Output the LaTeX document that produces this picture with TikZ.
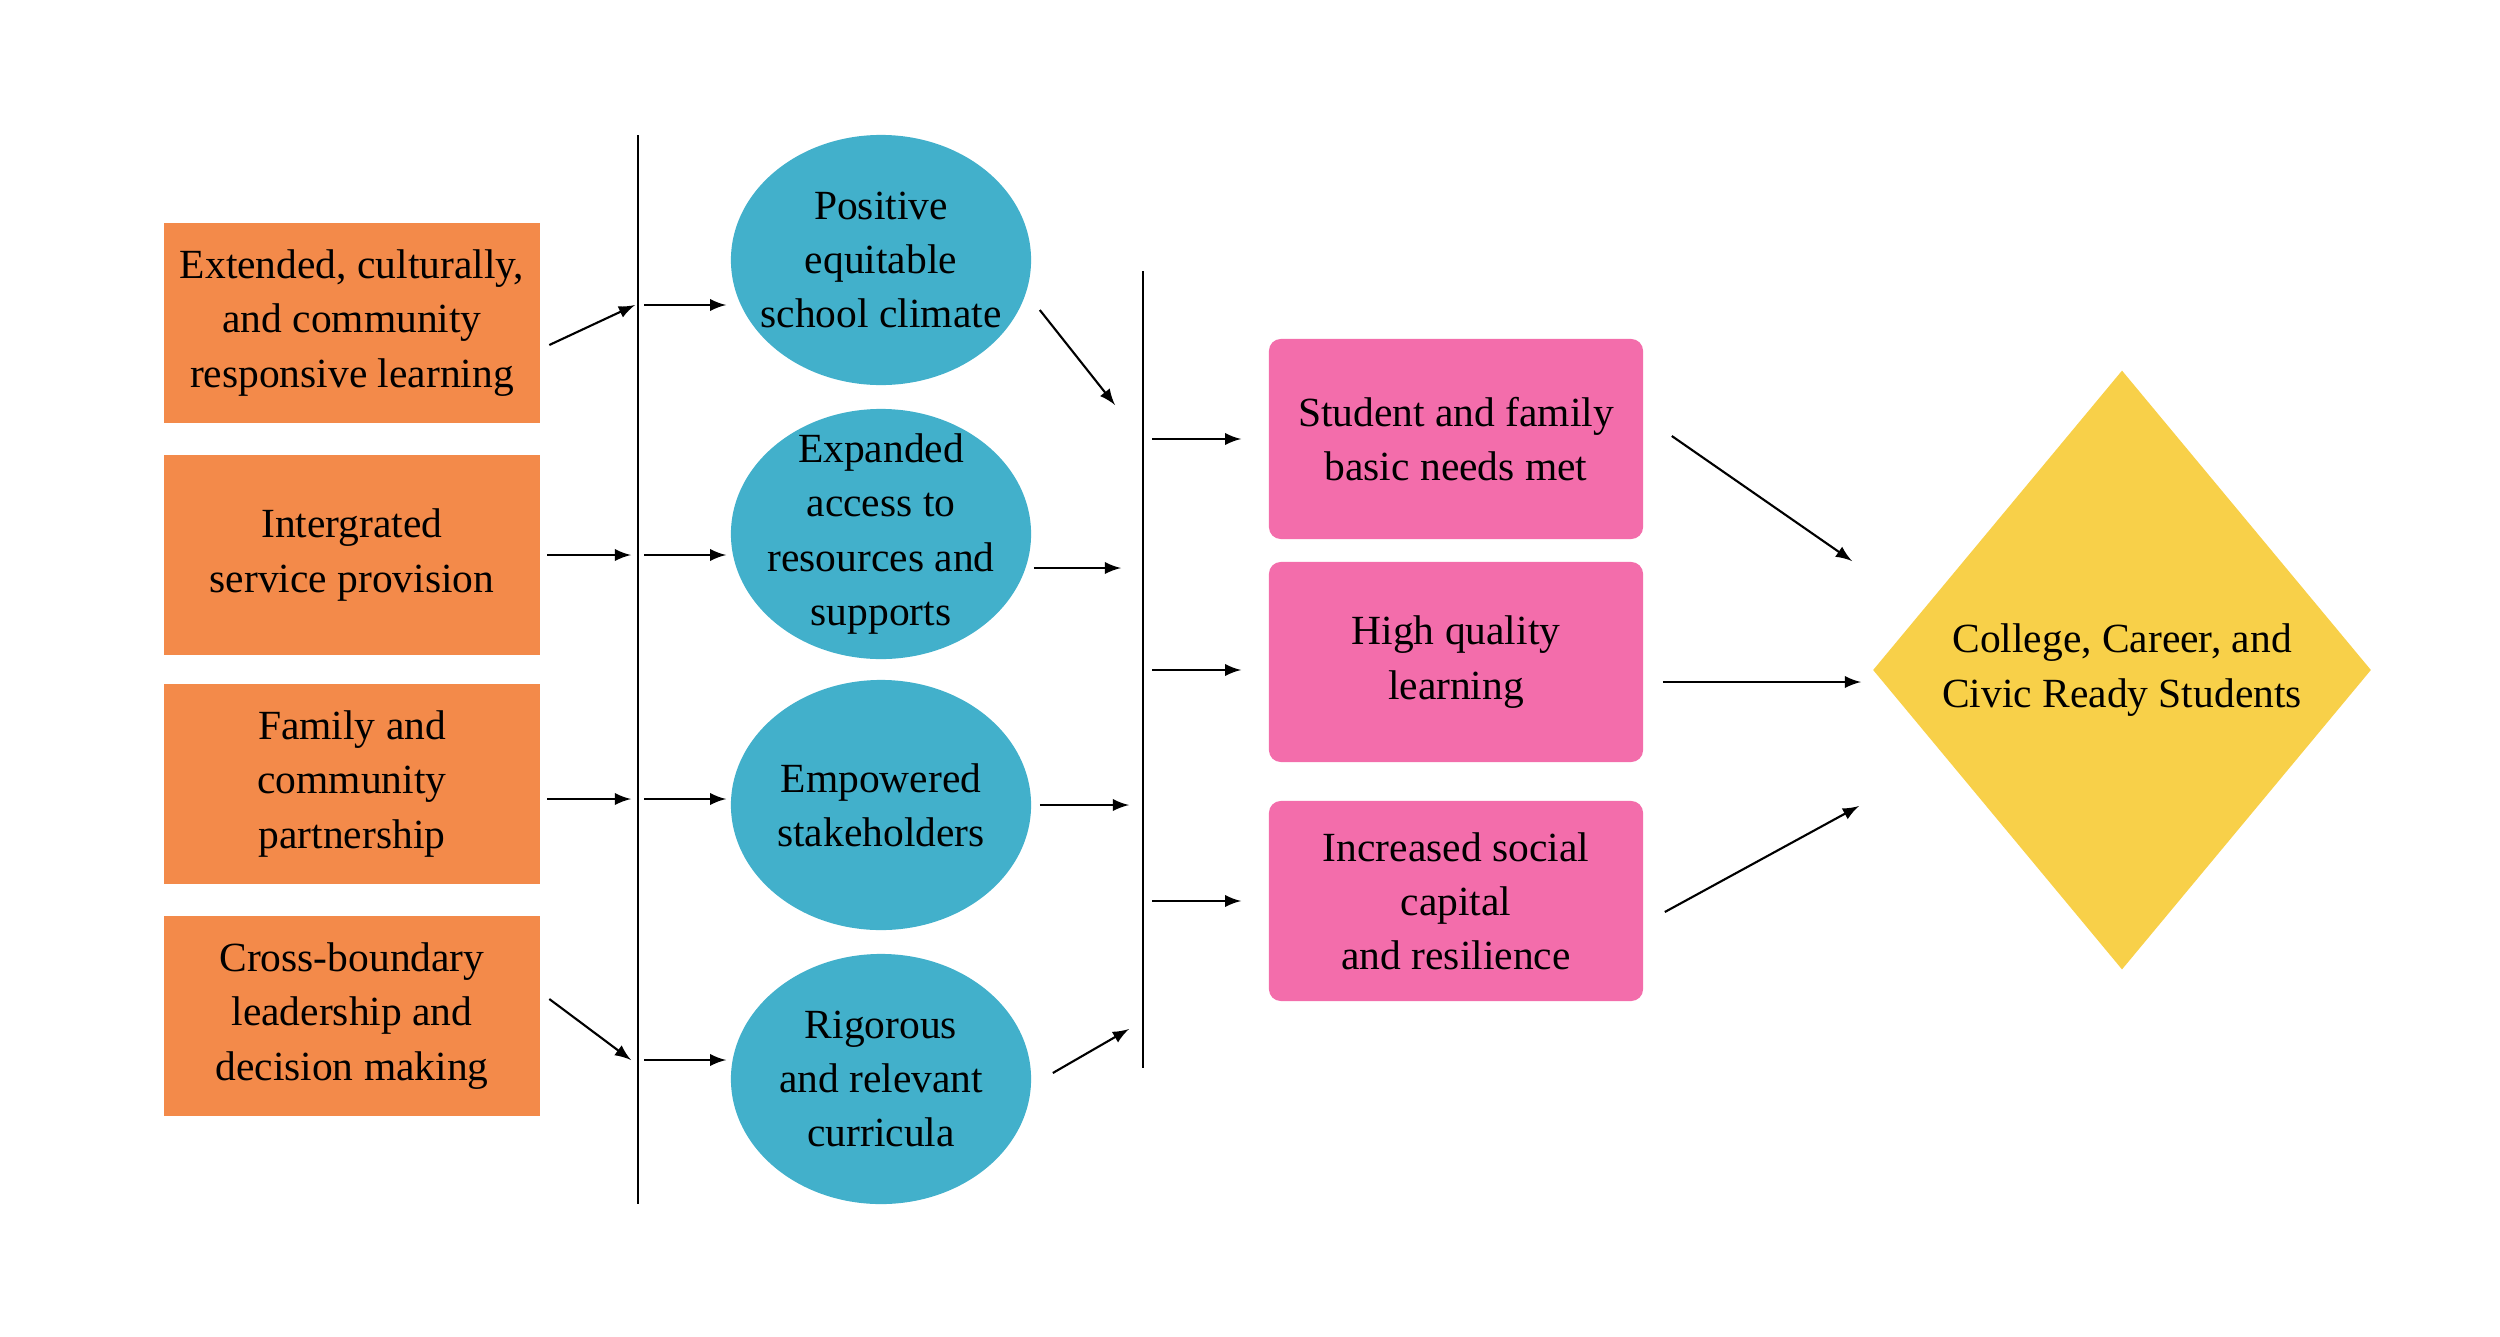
\documentclass[tikz,border=0pt]{standalone}
\usepackage{fontspec}
\setmainfont{Liberation Serif}
\usetikzlibrary{arrows,shapes.geometric}
\definecolor{strategyorange}{HTML}{F38A4A}
\definecolor{outcometeal}{HTML}{42B0CB}
\definecolor{resultpink}{HTML}{F36DAB}
\definecolor{goalyellow}{HTML}{F8D049}
\tikzset{
  >=latex,
  {label text/.style} ={align=center, text=black,
                  font=\fontsize{11.8}{15.4}\selectfont},
  {strategy box/.style} ={label text, rectangle, fill=strategyorange,
                  minimum width=3.75cm, minimum height=2cm},
  {outcome oval/.style} ={label text, ellipse, fill=outcometeal,
                  inner sep=-3mm, minimum width=3cm, minimum height=2.5cm},
  {result box/.style} ={label text, rectangle, rounded corners=1.2mm,
                  fill=resultpink, minimum width=3.74cm, minimum height=2cm},
  {goal diamond/.style} ={label text, diamond, fill=goalyellow, inner sep=0,
                  minimum width=4.98cm, minimum height=5.99cm},
  {bar/.style} ={draw, line width=0.6pt},
  {link/.style} ={draw, ->, line width=0.6pt},
}
\begin{document}
\begin{tikzpicture}[x=0.01cm,y=-0.01cm]
\useasboundingbox (0,0) rectangle (2500,1336);
% strategies
\node[strategy box] (b1) at (352,323) {Extended, culturally,\\and community\\responsive learning};
\node[strategy box] (b2) at (352,555) {Intergrated\\service provision};
\node[strategy box] (b3) at (352,784) {Family and\\community\\partnership};
\node[strategy box] (b4) at (352,1016) {Cross-boundary\\leadership and\\decision making};
% intermediate outcomes
\node[outcome oval] (e1) at (881,260) {Positive\\equitable\\school climate};
\node[outcome oval] (e2) at (881,534) {Expanded\\access to\\resources and\\supports};
\node[outcome oval] (e3) at (881,805) {Empowered\\stakeholders};
\node[outcome oval] (e4) at (881,1079) {Rigorous\\and relevant\\curricula};
% results
\node[result box] (p1) at (1456,439) {Student and family\\basic needs met};
\node[result box] (p2) at (1456,662) {High quality\\learning};
\node[result box] (p3) at (1456,901) {Increased social\\capital\\and resilience};
\node[goal diamond] (goal) at (2122,670) {College, Career, and\\Civic Ready Students};
% collecting bars
\coordinate (barAtop) at (638,135);
\coordinate (barAbot) at (638,1204);
\coordinate (barBtop) at (1143,271);
\coordinate (barBbot) at (1143,1068);
\path[bar] (barAtop) -- (barAbot) (barBtop) -- (barBbot);
% arrow ends on the bars
\coordinate (a1) at (635,305);
\coordinate (a2) at (631,555);
\coordinate (a3) at (631,799);
\coordinate (a4) at (631,1060);
\coordinate (c1) at (1115,405);
\coordinate (c2) at (1121,568);
\coordinate (c3) at (1129,805);
\coordinate (c4) at (1129,1029);
\coordinate (g1) at (1852,561);
\coordinate (g2) at (1861,682);
\coordinate (g3) at (1859,806);
\path[link] ([shift={(9,22)}]b1.east) -- (a1);
\path[link] ([shift={(7,0)}]b2.east) -- (a2);
\path[link] ([shift={(7,15)}]b3.east) -- (a3);
\path[link] ([shift={(9,-17)}]b4.east) -- (a4);
\path[link] ([shift={(-86,45)}]e1.west) -- ([shift={(-4,45)}]e1.west);
\path[link] ([shift={(-86,21)}]e2.west) -- ([shift={(-4,21)}]e2.west);
\path[link] ([shift={(-86,-6)}]e3.west) -- ([shift={(-4,-6)}]e3.west);
\path[link] ([shift={(-86,-19)}]e4.west) -- ([shift={(-4,-19)}]e4.west);
\path[link] ([shift={(8,50)}]e1.east) -- (c1);
\path[link] ([shift={(2,34)}]e2.east) -- (c2);
\path[link] ([shift={(8,0)}]e3.east) -- (c3);
\path[link] ([shift={(21,-6)}]e4.east) -- (c4);
\path[link] ([shift={(-116,0)}]p1.west) -- ([shift={(-27,0)}]p1.west);
\path[link] ([shift={(-116,8)}]p2.west) -- ([shift={(-27,8)}]p2.west);
\path[link] ([shift={(-116,0)}]p3.west) -- ([shift={(-27,0)}]p3.west);
\path[link] ([shift={(28,-3)}]p1.east) -- (g1);
\path[link] ([shift={(19,20)}]p2.east) -- (g2);
\path[link] ([shift={(21,11)}]p3.east) -- (g3);
\end{tikzpicture}
\end{document}
